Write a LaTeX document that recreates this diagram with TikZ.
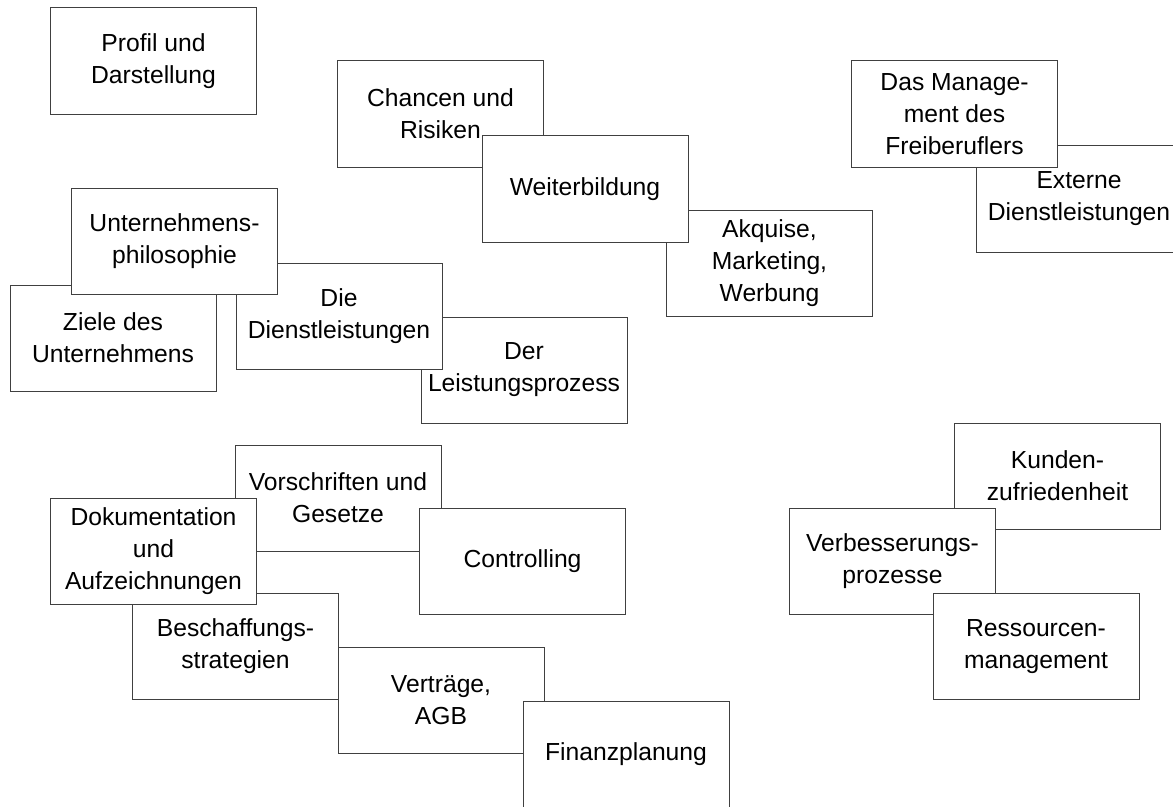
\documentclass[tikz,border=0pt]{standalone}
\usepackage{fontspec}
\setmainfont{Liberation Sans}
\begin{document}
\begin{tikzpicture}[x=0.75pt,y=-0.75pt,
  card/.style={draw=black!75, line width=0.75pt, fill=white, rectangle,
    inner sep=0pt, align=center, minimum width=154.5pt, minimum height=79.5pt,
    font=\fontsize{18.5pt}{24pt}\selectfont}]
\useasboundingbox (0,0) rectangle (1173,806);
% top left
\node[card, minimum height=80.25pt] (profil) at (153.5,61) {Profil und\\Darstellung};
% top middle
\node[card] (chancen) at (440.5,114) {Chancen und\\Risiken};
\node[card] (akquise) at (769.5,263.5) {Akquise,\\Marketing,\\Werbung};
\node[card] (weiter) at (585,189) {Weiterbildung};
% middle left
\node[card] (ziele) at (113,338) {Ziele des\\Unternehmens};
\node[card] (leistung) at (524,370) {Der\\Leistungsprozess};
\node[card] (dienst) at (339,316.5) {Die\\Dienstleistungen};
\node[card] (philo) at (174.5,241.5) {Unternehmens-\\philosophie};
% bottom left
\node[card] (vorschr) at (338,498) {Vorschriften und\\Gesetze};
\node[card] (beschaff) at (235.5,646.5) {Beschaffungs-\\strategien};
\node[card] (vertraege) at (441,700) {Verträge,\\AGB};
\node[card] (finanz) at (626,754.5) {Finanzplanung};
\node[card] (doku) at (153.5,551) {Dokumentation\\und\\Aufzeichnungen};
\node[card] (controlling) at (522.5,561.5) {Controlling};
% top right
\node[card] (extern) at (1079,199) {Externe\\Dienstleistungen};
\node[card] (manage) at (954.5,114) {Das Manage-\\ment des\\Freiberuflers};
% bottom right
\node[card] (kunden) at (1057.5,476) {Kunden-\\zufriedenheit};
\node[card] (verbess) at (892.5,561.5) {Verbesserungs-\\prozesse};
\node[card] (ressourcen) at (1036,646.5) {Ressourcen-\\management};
\end{tikzpicture}
\end{document}
